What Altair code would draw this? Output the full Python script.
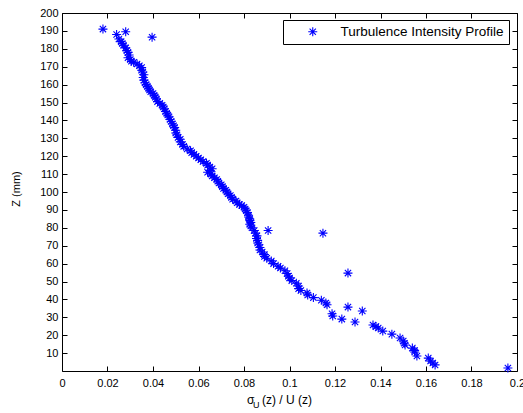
import altair as alt
import pandas as pd

FONT = "Liberation Sans"

# Turbulence intensity sigma_U/U(z) versus height Z (mm)
x_vals = [
    0.018, 0.024, 0.028, 0.0396,
    0.025, 0.026, 0.0265, 0.027, 0.028, 0.0285, 0.029, 0.0295, 0.029, 0.030,
    0.0305, 0.0315, 0.033, 0.034, 0.035, 0.035, 0.0355, 0.036, 0.0357, 0.036,
    0.0365, 0.037, 0.0375, 0.038, 0.0385, 0.039, 0.040, 0.0405, 0.041, 0.0415,
    0.042, 0.043, 0.044, 0.0445, 0.045, 0.0455, 0.046, 0.0465, 0.047, 0.0475,
    0.048, 0.0485, 0.049, 0.0495, 0.050, 0.050, 0.0505, 0.051, 0.052, 0.052,
    0.053, 0.0535, 0.055, 0.0565, 0.057, 0.058, 0.059, 0.060, 0.061, 0.062,
    0.0635, 0.064, 0.065, 0.066, 0.065, 0.064, 0.0655, 0.066, 0.067, 0.068,
    0.0685, 0.069, 0.070, 0.0705, 0.071, 0.072, 0.0725, 0.073, 0.074, 0.0745,
    0.075, 0.0765, 0.077, 0.078, 0.079, 0.080, 0.0805, 0.081, 0.0815, 0.082,
    0.082, 0.0825, 0.0826, 0.083, 0.0825, 0.083, 0.0835, 0.0845, 0.085, 0.0857,
    0.0855, 0.086, 0.086, 0.0865, 0.087, 0.087, 0.088, 0.089, 0.089, 0.090,
    0.092, 0.093, 0.095, 0.096, 0.098, 0.099, 0.0995, 0.100, 0.101, 0.103,
    0.104, 0.104, 0.105, 0.1077, 0.108, 0.1105, 0.114, 0.116, 0.1165, 0.1187,
    0.119, 0.123, 0.1288, 0.1367, 0.138, 0.139, 0.141, 0.145, 0.1486, 0.150,
    0.1505, 0.1508, 0.154, 0.155, 0.155, 0.156, 0.161, 0.162, 0.163, 0.164,
    0.0906, 0.1147, 0.1257, 0.1257, 0.132, 0.196,
]
z_vals = [
    191.0, 188.0, 189.5, 186.5,
    185.5, 184.0, 183.0, 182.0, 180.5, 179.0, 178.0, 176.5, 175.0, 174.0,
    173.0, 172.5, 171.5, 170.5, 169.5, 168.0, 167.0, 165.5, 164.0, 162.5,
    161.0, 160.0, 159.0, 158.0, 157.0, 156.0, 155.0, 154.0, 153.0, 152.0,
    150.5, 149.5, 148.5, 147.5, 146.5, 145.0, 144.0, 143.0, 142.0, 140.5,
    139.5, 138.0, 137.0, 136.0, 134.5, 133.0, 132.0, 130.5, 129.5, 128.0,
    126.5, 125.5, 124.0, 123.0, 122.0, 121.0, 120.0, 119.0, 118.0, 117.0,
    116.0, 115.0, 114.0, 113.0, 112.0, 111.0, 110.0, 109.0, 108.0, 107.0,
    106.0, 105.0, 104.0, 103.0, 102.0, 101.0, 100.0, 99.0, 98.0, 97.0,
    96.0, 95.0, 94.0, 93.0, 92.5, 91.5, 90.5, 89.5, 88.5, 87.0,
    86.0, 85.0, 84.0, 83.0, 82.0, 81.0, 80.0, 78.5, 77.0, 75.5,
    74.0, 73.0, 71.5, 70.5, 69.0, 67.6, 66.5, 65.0, 64.0, 63.0,
    61.5, 60.0, 58.5, 57.5, 56.0, 54.5, 53.0, 52.0, 50.5, 49.0,
    47.5, 46.0, 45.0, 43.6, 42.5, 41.0, 39.5, 38.0, 37.0, 32.0,
    30.7, 29.0, 27.4, 25.7, 24.8, 24.0, 22.3, 20.6, 18.4, 16.8,
    15.5, 14.5, 12.8, 11.5, 10.6, 8.4, 7.2, 5.6, 4.5, 3.4,
    78.5, 77.0, 54.7, 35.7, 33.5, 1.7,
]
series_names = ["Turbulence Intensity Profile"]
x_ticks = [0, 0.02, 0.04, 0.06, 0.08, 0.1, 0.12, 0.14, 0.16, 0.18, 0.2]
y_ticks = [10, 20, 30, 40, 50, 60, 70, 80, 90, 100, 110, 120, 130, 140,
           150, 160, 170, 180, 190, 200]
NB = "\u00a0"
x_title_parts = ["σ", "U", "(z)" + NB + "/" + NB + "U" + NB + "(z)"]
y_title = "Z (mm)"

df = pd.DataFrame({"x": x_vals, "z": z_vals, "series": series_names[0]})

STAR = "M-1,0L1,0M0,-1L0,1M-0.7,-0.7L0.7,0.7M-0.7,0.7L0.7,-0.7"
BLUE = "#0000ff"

xs = alt.Scale(domain=[0, 0.2], nice=False, zero=False)
ys = alt.Scale(domain=[0, 200], nice=False, zero=False)

common_axis = dict(offset=-5, tickSize=5, domain=False, grid=False,
                   tickColor="black", tickWidth=1, labelColor="black",
                   labelFont=FONT, labelFontSize=11, title=None)

points = alt.Chart(df).mark_point(
    shape=STAR, filled=False, size=81, strokeWidth=1.1, opacity=1
).encode(
    x=alt.X("x:Q", scale=xs,
            axis=alt.Axis(orient="bottom", values=x_ticks, format=".2~f",
                          labelPadding=6, labelOverlap=False, labelFlush=False,
                          **common_axis)),
    y=alt.Y("z:Q", scale=ys,
            axis=alt.Axis(orient="left", values=y_ticks, labelPadding=4,
                          labelOverlap=False, labelFlush=False, **common_axis)),
    color=alt.Color("series:N", scale=alt.Scale(range=[BLUE]),
                    legend=alt.Legend(orient="none", legendX=221, legendY=7,
                                      title=None, strokeColor="black",
                                      fillColor="white", padding=5,
                                      symbolType=STAR, symbolSize=81,
                                      symbolStrokeWidth=1.1, symbolOffset=18,
                                      labelOffset=21, labelFont=FONT,
                                      labelFontSize=13.5, labelColor="black",
                                      labelLimit=400, cornerRadius=0)),
)

mirror = alt.Chart(df).mark_point(opacity=0).encode(
    x=alt.X("x:Q", scale=xs,
            axis=alt.Axis(orient="top", values=x_ticks, labels=False, **common_axis)),
    y=alt.Y("z:Q", scale=ys,
            axis=alt.Axis(orient="right", values=y_ticks, labels=False, **common_axis)),
)

sigma_txt = alt.Chart(pd.DataFrame({"t": [x_title_parts[0]]})).mark_text(
    align="left", baseline="alphabetic", font=FONT, fontSize=12, color="black"
).encode(x=alt.value(185), y=alt.value(391), text="t:N")

sub_txt = alt.Chart(pd.DataFrame({"t": [x_title_parts[1]]})).mark_text(
    align="left", baseline="alphabetic", font=FONT, fontSize=9, color="black"
).encode(x=alt.value(191), y=alt.value(395), text="t:N")

rest_txt = alt.Chart(pd.DataFrame({"t": [x_title_parts[2]]})).mark_text(
    align="left", baseline="alphabetic", font=FONT, fontSize=12, color="black"
).encode(x=alt.value(200), y=alt.value(391), text="t:N")

ytitle_txt = alt.Chart(pd.DataFrame({"t": [y_title]})).mark_text(
    align="center", baseline="middle", font=FONT, fontSize=11, color="black",
    angle=270
).encode(x=alt.value(-45), y=alt.value(176), text="t:N")

chart = alt.layer(points, mirror, sigma_txt, sub_txt, rest_txt, ytitle_txt).resolve_axis(
    x="independent", y="independent"
).properties(
    width=455, height=358,
    autosize=alt.AutoSizeParams(type="none"),
    padding={"left": 62, "top": 13, "right": 6, "bottom": 42},
    background="white",
).configure_view(stroke="black", strokeWidth=1)

chart.save("out.html", embed_options={"renderer": "svg", "actions": False})
